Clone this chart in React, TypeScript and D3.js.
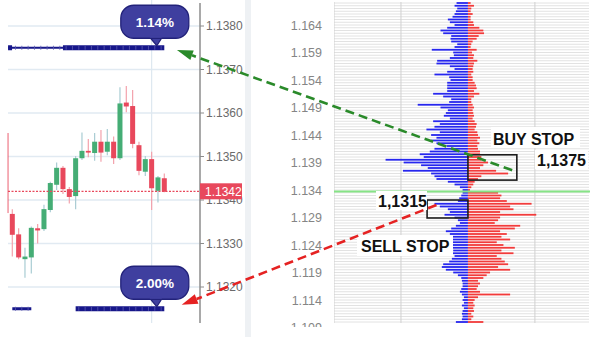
import React from "react";
import * as d3 from "d3";

// ---------- Left: candlestick chart ----------
const candleOpen = [1.13554, 1.13368, 1.13321, 1.13264, 1.13268, 1.13335, 1.13333, 1.13377, 1.13435, 1.13474, 1.13425, 1.13409, 1.13496, 1.13513, 1.13508, 1.13534, 1.13511, 1.13534, 1.13496, 1.13624, 1.13616, 1.13526, 1.13465, 1.13494, 1.13421, 1.1345];
const candleHigh = [1.1356, 1.13379, 1.13335, 1.1329, 1.13339, 1.13345, 1.13389, 1.13442, 1.13486, 1.13478, 1.1343, 1.13501, 1.13555, 1.1354, 1.13554, 1.13561, 1.13563, 1.13546, 1.13659, 1.13662, 1.13653, 1.13534, 1.13501, 1.13511, 1.13455, 1.13461];
const candleLow = [1.13365, 1.1327, 1.13264, 1.13221, 1.13231, 1.133, 1.13329, 1.13372, 1.13423, 1.13414, 1.13392, 1.13379, 1.13492, 1.13498, 1.1349, 1.13488, 1.13503, 1.13483, 1.13492, 1.13602, 1.13519, 1.13457, 1.13455, 1.13377, 1.13394, 1.13418];
const candleClose = [1.1337, 1.1332, 1.13268, 1.1327, 1.13336, 1.1333, 1.13379, 1.13439, 1.13474, 1.13425, 1.13407, 1.13496, 1.13513, 1.13509, 1.13534, 1.13509, 1.13534, 1.13496, 1.13622, 1.13615, 1.13529, 1.13467, 1.13494, 1.13427, 1.13452, 1.13419];
const leftTicks = [1.138, 1.137, 1.136, 1.135, 1.134, 1.133, 1.132];
const lastPrice = 1.1342;
const stopPrices = [1.1375, 1.1315];
const stopPercents = ["1.14%", "2.00%"];
// candle-index extents of the stop-order bars: [thinFrom, thinTo, thickFrom, thickTo]
const stopThin = [[0.33, 9], [1, 4]];
const stopThick = [[9, 25], [11, 25]];

// ---------- Right: order book ----------
const bookTop = 1.168;
const bookStep = 0.0005;
const bidVolume = [
  17, 20, 16, 18, 20, 23, 30, 27, 20, 31,
  41, 37, 25, 26, 25, 16, 20, 54, 22, 21,
  27, 46, 47, 27, 20, 31, 50, 28, 26, 31,
  31, 31, 31, 52, 37, 25, 28, 75, 41, 30,
  33, 36, 27, 52, 42, 50, 62, 42, 55, 47,
  55, 47, 32, 50, 57, 72, 66, 123, 96, 70,
  60, 97, 55, 50, 47, 30, 20, 12, 8, 8,
  10, 13, 15, 50, 42, 30, 27, 35, 20, 15,
  12, 18, 25, 33, 27, 37, 45, 33, 24, 30,
  22, 27, 20, 24, 28, 37, 39, 33, 22, 15,
  10, 9, 8, 8, 10, 12, 9, 6, 8, 6,
  9, 6, 8, 9, 8, 9, 18,
];
const askVolume = [
  4, 9, 5, 4, 7, 4, 4, 8, 9, 17,
  23, 24, 16, 13, 7, 5, 4, 13, 6, 9,
  8, 14, 9, 8, 7, 8, 5, 7, 7, 10,
  12, 13, 9, 17, 9, 5, 5, 7, 9, 7,
  8, 9, 7, 10, 13, 12, 10, 14, 15, 18,
  14, 17, 14, 15, 18, 18, 20, 20, 30, 23,
  18, 42, 60, 20, 15, 10, 8, 5, 3, 45,
  50, 48, 58, 95, 63, 68, 48, 102, 48, 45,
  40, 78, 70, 48, 58, 50, 63, 43, 53, 70,
  50, 68, 43, 50, 55, 60, 45, 63, 33, 28,
  23, 15, 18, 15, 13, 18, 63, 15, 10, 8,
  10, 8, 9, 5, 8, 5, 23,
];
const rightTicks = [1.164, 1.159, 1.154, 1.149, 1.144, 1.139, 1.134, 1.129, 1.124, 1.119, 1.114, 1.109];
const bookCurrent = 1.13373;
const bookGrid = [-200, -100, 100];
const buyStopLabel = "1,1375";
const sellStopLabel = "1,1315";

const FONT = "'Liberation Sans', Arial, Helvetica, sans-serif";
const GREEN = "#45ad75";
const RED = "#e8485c";
const GREEN_WICK = "#a9ccd3";
const RED_WICK = "#f3a2ac";
const NAVY = "#17178a";

function arrow(x0: number, y0: number, x1: number, y1: number, L = 16, w = 10) {
  const dx = x1 - x0, dy = y1 - y0;
  const len = Math.hypot(dx, dy);
  const ux = dx / len, uy = dy / len;
  const bx = x1 - ux * L, by = y1 - uy * L;
  const nx = -uy, ny = ux;
  return {
    x0, y0, bx, by,
    head: `${x1},${y1} ${bx + (nx * w) / 2},${by + (ny * w) / 2} ${bx - (nx * w) / 2},${by - (ny * w) / 2}`,
  };
}

export default function App() {
  const xC = d3.scaleLinear().domain([0, 25]).range([5.97, 164.3]);
  const yL = d3.scaleLinear().domain([1.132, 1.138]).range([287, 26]);
  const xB = d3.scaleLinear().domain([-200, 180]).range([334, 588.5]);
  const yB = d3.scaleLinear().domain([1.109, 1.164]).range([327.5, 25]);
  const step = xC(1) - xC(0);
  const bodyW = 5;

  const rowPrices = d3.range(bidVolume.length).map((i) => +(bookTop - i * bookStep).toFixed(4));
  const fmt4 = d3.format(".4f");
  const fmt3 = d3.format(".3f");

  const leftX0 = 8, leftX1 = 200;
  const bookX0 = xB(-200), bookX1 = 589;

  // arrows
  const gArrow = arrow(xB(66), yB(1.1376), xC(27), yL(1.13745));
  const rArrow = arrow(xB(-47), yB(1.13127), xC(27.75), yL(1.13159));

  // stop boxes
  const buyBox = { x: xB(0), y: yB(1.1404), w: xB(73) - xB(0), h: yB(1.1358) - yB(1.1404) };
  const sellBox = { x: xB(-61), y: yB(1.13218), w: xB(0) - xB(-61), h: yB(1.12891) - yB(1.13218) };

  return (
    <svg
      width={598}
      height={337}
      style={{ position: "absolute", left: 0, top: 0, background: "#fff" }}
      fontFamily={FONT}
    >
      <defs>
        <clipPath id="leftClip">
          <rect x={7.6} y={0} width={192.4} height={323} />
        </clipPath>
        <clipPath id="bookClip">
          <rect x={bookX0} y={2} width={bookX1 - bookX0} height={321} />
        </clipPath>
        <clipPath id="rlabClip">
          <rect x={250} y={0} width={84} height={327} />
        </clipPath>
      </defs>
      <rect x={0} y={0} width={598} height={337} fill="#fff" />

      {/* ===== Left panel ===== */}
      {leftTicks.map((t) => (
        <line key={"lg" + t} x1={leftX0} x2={leftX1} y1={yL(t)} y2={yL(t)} stroke="#e1eaf2" strokeWidth={1.3} />
      ))}
      <line x1={xC(23)} x2={xC(23)} y1={0} y2={323} stroke="#dde8f0" strokeWidth={1.2} />

      <g clipPath="url(#leftClip)">
        {candleOpen.map((o, i) => {
          const c = candleClose[i];
          const up = c >= o;
          const x = xC(i);
          const top = yL(Math.max(o, c));
          const bot = yL(Math.min(o, c));
          return (
            <g key={"c" + i}>
              <line x1={x} x2={x} y1={yL(candleHigh[i])} y2={yL(candleLow[i])} stroke={up ? GREEN_WICK : RED_WICK} strokeWidth={1.2} />
              <rect x={x - bodyW / 2} y={top} width={bodyW} height={Math.max(1.5, bot - top)} fill={up ? GREEN : RED} />
            </g>
          );
        })}
      </g>

      {/* last price dotted line */}
      <line x1={leftX0} x2={leftX1} y1={yL(lastPrice)} y2={yL(lastPrice)} stroke={RED} strokeWidth={1.2} strokeDasharray="2,1.5" />

      {/* stop order bars */}
      {stopPrices.map((p, k) => {
        const y = yL(p);
        const [tf, tt] = stopThin[k];
        const [kf, kt] = stopThick[k];
        const thinH = k === 0 ? 2 : 3;
        const seps = d3.range(Math.ceil(tf), kt).map((i) => xC(i + 0.5)).filter((sx) => sx > xC(tf) + 1 && sx < xC(kt) - 1 && (sx < xC(tt) || sx > xC(kf)));
        return (
          <g key={"s" + k}>
            <rect x={xC(tf)} y={y - thinH / 2} width={xC(tt) - xC(tf)} height={thinH} fill={NAVY} />
            {k === 0 && <rect x={xC(tf)} y={y - 2.5} width={4} height={5} fill={NAVY} />}
            <rect x={xC(kf)} y={y - 2.5} width={xC(kt) - xC(kf)} height={5} fill={NAVY} />
            {seps.map((sx, j) => (
              <line key={j} x1={sx} x2={sx} y1={y - 2} y2={y + 2} stroke="#5a5ab0" strokeWidth={0.8} />
            ))}
          </g>
        );
      })}

      {/* bubbles */}
      {stopPrices.map((p, k) => {
        const ly = yL(p);
        const cx = xC(23.5);
        const bw = 68, bh = 33;
        const by = ly - 42.5;
        const bx = cx - bw / 2;
        const tail = `M${cx - 6},${by + bh - 2} L${cx + 8},${by + bh - 2} L${cx + 2},${ly - 2} Z`;
        return (
          <g key={"b" + k}>
            <path d={tail} fill="#3f3f9f" stroke="#22227a" strokeWidth={1.3} />
            <rect x={bx} y={by} width={bw} height={bh} rx={13} fill="#3f3f9f" stroke="#22227a" strokeWidth={1.3} />
            <path d={`M${cx - 5},${by + bh - 1.5} L${cx + 7},${by + bh - 1.5}`} stroke="#3f3f9f" strokeWidth={2} />
            <text x={cx} y={by + bh / 2 + 5} textAnchor="middle" fill="#fff" fontWeight="bold" fontSize={13.5}>
              {stopPercents[k]}
            </text>
          </g>
        );
      })}

      {/* left axis */}
      <line x1={leftX1} x2={leftX1} y1={3} y2={323} stroke="#8c8c8c" strokeWidth={1.5} />
      {leftTicks.map((t) => (
        <g key={"lt" + t}>
          <line x1={leftX1} x2={leftX1 + 4} y1={yL(t)} y2={yL(t)} stroke="#8c8c8c" strokeWidth={1} />
          <text x={leftX1 + 6} y={yL(t) + 4.3} fontSize={12} fill="#6b6b6b">
            {fmt4(t)}
          </text>
        </g>
      ))}
      <rect x={leftX1} y={yL(lastPrice) - 8} width={42} height={16} fill={RED} />
      <text x={leftX1 + 5} y={yL(lastPrice) + 4.3} fontSize={12} fill="#fff">
        {fmt4(lastPrice)}
      </text>

      {/* separator band */}
      <rect x={245} y={0} width={6} height={337} fill="#eef1f4" />

      {/* ===== Right panel ===== */}
      <g clipPath="url(#rlabClip)">
        {rightTicks.map((t) => (
          <text key={"rt" + t} x={322} y={yB(t) + 4.5} textAnchor="end" fontSize={12.5} fill="#858585">
            {fmt3(t)}
          </text>
        ))}
      </g>

      <g clipPath="url(#bookClip)">
        {rowPrices.map((p) => (
          <line key={"rs" + p} x1={bookX0} x2={bookX1} y1={yB(p)} y2={yB(p)} stroke="#e2e2e2" strokeWidth={1} />
        ))}
        {bookGrid.map((g) => (
          <line key={"bg" + g} x1={xB(g)} x2={xB(g)} y1={0} y2={323} stroke="#d0d0d0" strokeWidth={1} />
        ))}
        {rowPrices.map((p, i) => (
          <g key={"bar" + p}>
            <rect x={xB(-bidVolume[i])} y={yB(p) - 0.9} width={xB(0) - xB(-bidVolume[i])} height={1.8} fill="#2626ee" />
            <rect x={xB(0)} y={yB(p) - 0.9} width={xB(askVolume[i]) - xB(0)} height={1.8} fill="#f23b3b" />
          </g>
        ))}
      </g>
      <line x1={bookX0} x2={bookX1 + 1} y1={yB(bookCurrent)} y2={yB(bookCurrent)} stroke="#86e486" strokeWidth={2} />

      {/* stop boxes */}
      <rect x={buyBox.x} y={buyBox.y} width={buyBox.w} height={buyBox.h} fill="none" stroke="#1c1c1c" strokeWidth={1.6} />
      <rect x={sellBox.x} y={sellBox.y} width={sellBox.w} height={sellBox.h} fill="none" stroke="#1c1c1c" strokeWidth={1.6} />

      {/* labels */}
      <rect x={491} y={127} width={89} height={21} fill="#fff" />
      <text x={493} y={144.5} fontSize={16} fontWeight="bold" fill="#111">BUY STOP</text>
      <rect x={535} y={150} width={53} height={19} fill="#fff" />
      <text x={537} y={166} fontSize={16} fontWeight="bold" fill="#111">{buyStopLabel}</text>
      <rect x={376} y={191} width={51} height={19} fill="#fff" />
      <text x={378} y={207} fontSize={16} fontWeight="bold" fill="#111">{sellStopLabel}</text>
      <rect x={357} y={235} width={96} height={21} fill="#fff" />
      <text x={361} y={252} fontSize={16} fontWeight="bold" fill="#111">SELL STOP</text>

      {/* arrows */}
      <line x1={gArrow.x0} y1={gArrow.y0} x2={gArrow.bx} y2={gArrow.by} stroke="#2a8a2a" strokeWidth={2.6} strokeDasharray="9,5" />
      <polygon points={gArrow.head} fill="#2a8a2a" />
      <line x1={rArrow.x0} y1={rArrow.y0} x2={rArrow.bx} y2={rArrow.by} stroke="#e52222" strokeWidth={2.6} strokeDasharray="9,5" />
      <polygon points={rArrow.head} fill="#e52222" />
    </svg>
  );
}
